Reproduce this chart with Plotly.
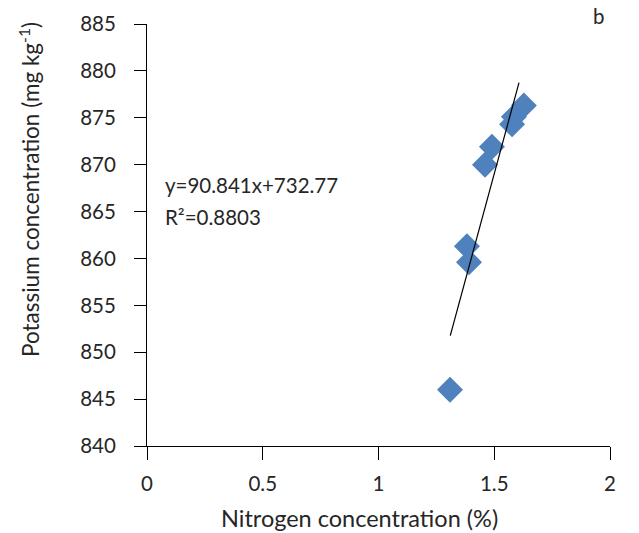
import plotly.graph_objects as go

nitrogen = [1.309, 1.382, 1.391, 1.460, 1.490, 1.577, 1.585, 1.628]
potassium = [846.0, 861.3, 859.6, 870.0, 871.9, 874.3, 875.1, 876.3]
slope = 90.841
intercept = 732.77
trend_x = [1.31, 1.607]
trend_y = [slope * v + intercept for v in trend_x]
x_ticks = [0, 0.5, 1, 1.5, 2]
x_tick_labels = ["0", "0.5", "1", "1.5", "2"]
y_ticks = [840, 845, 850, 855, 860, 865, 870, 875, 880, 885]

FONT = "Lato, 'Open Sans', sans-serif"
TXT = "#262626"

fig = go.Figure()
fig.add_trace(go.Scatter(
    x=nitrogen, y=potassium, mode="markers",
    marker=dict(symbol="diamond", size=20, color="#4F81BD", line=dict(width=0)),
    showlegend=False, hoverinfo="skip"))
fig.add_trace(go.Scatter(
    x=trend_x, y=trend_y, mode="lines",
    line=dict(color="#000000", width=1.2),
    showlegend=False, hoverinfo="skip"))

fig.update_layout(
    width=631, height=525,
    margin=dict(l=139, r=29, t=16, b=87),
    paper_bgcolor="white", plot_bgcolor="white",
    font=dict(family=FONT, size=20, color=TXT),
    xaxis=dict(range=[0, 2], tickvals=x_ticks, ticktext=x_tick_labels,
               showgrid=False, zeroline=False, showline=True, automargin=False,
               linecolor="#000000", linewidth=1.2,
               ticks="outside", ticklen=13, tickcolor="#000000", tickwidth=1.2,
               ticklabelstandoff=6,
               tickfont=dict(family=FONT, size=20.5, color=TXT)),
    yaxis=dict(range=[840, 885], tickvals=y_ticks,
               showgrid=False, zeroline=False, showline=True, automargin=False,
               linecolor="#000000", linewidth=1.2,
               ticks="outside", ticklen=12, tickcolor="#000000", tickwidth=1.2,
               ticklabelstandoff=14,
               tickfont=dict(family=FONT, size=20.5, color=TXT)),
    annotations=[
        dict(text="Nitrogen concentration (%)", xref="paper", yref="paper",
             x=(359 - 147) / 463, y=-(518 - 446) / 422, xanchor="center", yanchor="middle",
             showarrow=False, font=dict(family=FONT, size=23.5, color=TXT)),
        dict(text="Potassium concentration (mg kg<sup>-1</sup>)", xref="paper", yref="paper",
             x=-(147 - 29) / 463, y=(446 - 190) / 422, xanchor="center", yanchor="middle",
             textangle=-90, showarrow=False, font=dict(family=FONT, size=22.5, color=TXT)),
        dict(text="y=90.841x+732.77", xref="x", yref="y", x=0.069, y=867.8,
             xanchor="left", yanchor="middle", showarrow=False,
             font=dict(family=FONT, size=20.5, color=TXT)),
        dict(text="R²=0.8803", xref="x", yref="y", x=0.069, y=864.4,
             xanchor="left", yanchor="middle", showarrow=False,
             font=dict(family=FONT, size=20.5, color=TXT)),
        dict(text="b", xref="paper", yref="paper",
             x=(598 - 147) / 463, y=(446 - 16) / 422, xanchor="center", yanchor="middle",
             showarrow=False, font=dict(family=FONT, size=20.5, color=TXT)),
    ],
)

fig.write_html("out.html")
